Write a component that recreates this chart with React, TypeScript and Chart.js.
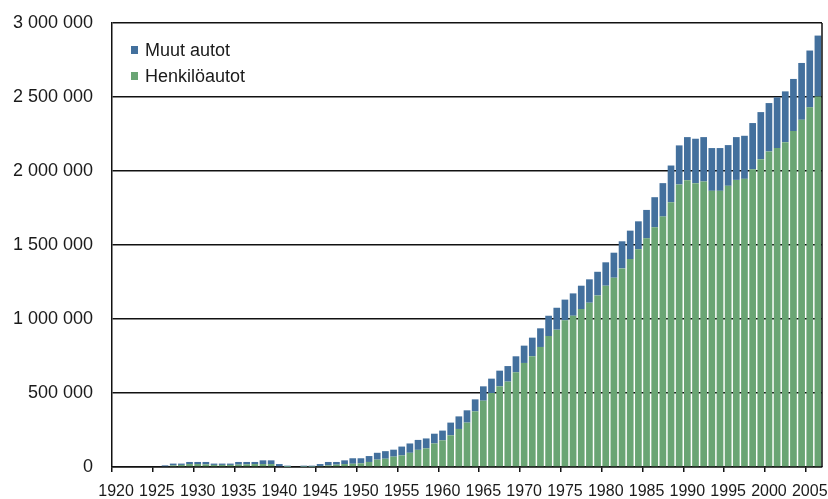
import React, { useEffect, useRef } from "react";
import { Chart, registerables } from "chart.js";

Chart.register(...registerables);

const years = [
  1920, 1921, 1922, 1923, 1924, 1925, 1926, 1927, 1928, 1929,
  1930, 1931, 1932, 1933, 1934, 1935, 1936, 1937, 1938, 1939,
  1940, 1941, 1942, 1943, 1944, 1945, 1946, 1947, 1948, 1949,
  1950, 1951, 1952, 1953, 1954, 1955, 1956, 1957, 1958, 1959,
  1960, 1961, 1962, 1963, 1964, 1965, 1966, 1967, 1968, 1969,
  1970, 1971, 1972, 1973, 1974, 1975, 1976, 1977, 1978, 1979,
  1980, 1981, 1982, 1983, 1984, 1985, 1986, 1987, 1988, 1989,
  1990, 1991, 1992, 1993, 1994, 1995, 1996, 1997, 1998, 1999,
  2000, 2001, 2002, 2003, 2004, 2005, 2006,
];

const henkiloautot = [
  0, 0, 0, 0, 0, 0, 5000, 11000, 14000, 20000,
  20000, 18000, 14000, 14000, 14000, 16000, 18000, 20000, 20000, 20000,
  5000, 1000, 0, 2000, 2000, 7000, 11000, 16000, 20000, 22000,
  25000, 34000, 50000, 56000, 70000, 78000, 96000, 116000, 126000, 159000,
  180000, 214000, 257000, 300000, 376000, 448000, 500000, 545000, 577000, 640000,
  703000, 748000, 811000, 885000, 928000, 991000, 1022000, 1067000, 1110000, 1159000,
  1225000, 1279000, 1342000, 1405000, 1471000, 1545000, 1620000, 1692000, 1789000, 1909000,
  1938000, 1918000, 1929000, 1866000, 1866000, 1900000, 1940000, 1947000, 2012000, 2080000,
  2132000, 2155000, 2195000, 2270000, 2346000, 2430000, 2504000,
];

const muutAutot = [
  0, 0, 0, 0, 0, 0, 6000, 12000, 9000, 14000,
  14000, 16000, 9000, 9000, 9000, 18000, 16000, 14000, 25000, 25000,
  15000, 8000, 0, 7000, 7000, 13000, 23000, 18000, 25000, 37000,
  34000, 40000, 46000, 51000, 47000, 60000, 63000, 67000, 67000, 66000,
  66000, 86000, 85000, 83000, 81000, 97000, 97000, 106000, 105000, 108000,
  117000, 126000, 126000, 137000, 148000, 140000, 151000, 158000, 158000, 160000,
  158000, 169000, 183000, 192000, 189000, 192000, 203000, 226000, 248000, 264000,
  291000, 300000, 300000, 289000, 289000, 275000, 289000, 291000, 312000, 318000,
  327000, 343000, 343000, 352000, 384000, 384000, 411000,
];

const seriesNames = ["Henkilöautot", "Muut autot"];
const seriesColors = ["#6aa574", "#43709d"];

const FONT = "'Liberation Sans', Arial, sans-serif";

const formatThousands = (v: number) =>
  String(v).replace(/\B(?=(\d{3})+(?!\d))/g, " ");

const frameAndLegend = {
  id: "frameAndLegend",
  afterDraw(chart: any) {
    const { ctx, chartArea } = chart;
    ctx.save();
    ctx.strokeStyle = "#111";
    ctx.lineWidth = 1.5;
    ctx.beginPath();
    ctx.moveTo(chartArea.right, chartArea.top);
    ctx.lineTo(chartArea.right, chartArea.bottom);
    ctx.stroke();

    const items = chart.data.datasets.slice().reverse();
    const x0 = chartArea.left + 19;
    let y = chartArea.top + 27;
    ctx.font = `18px ${FONT}`;
    ctx.textBaseline = "middle";
    ctx.textAlign = "left";
    items.forEach((ds: any) => {
      ctx.fillStyle = ds.backgroundColor;
      ctx.fillRect(x0, y - 4, 7, 8);
      ctx.fillStyle = "#1a1a1a";
      ctx.fillText(ds.label, x0 + 14, y + 1);
      y += 26;
    });
    ctx.restore();
  },
};

export default function App() {
  const ref = useRef<HTMLCanvasElement | null>(null);

  useEffect(() => {
    if (!ref.current) return;
    const chart = new Chart(ref.current, {
      type: "bar",
      data: {
        labels: years.map(String),
        datasets: [
          {
            label: seriesNames[0],
            data: henkiloautot,
            backgroundColor: seriesColors[0],
            barPercentage: 0.82,
            categoryPercentage: 1,
            borderWidth: 0,
          },
          {
            label: seriesNames[1],
            data: muutAutot,
            backgroundColor: seriesColors[1],
            barPercentage: 0.82,
            categoryPercentage: 1,
            borderWidth: 0,
          },
        ],
      },
      options: {
        animation: false,
        responsive: true,
        maintainAspectRatio: false,
        layout: { padding: { top: 23, right: 6, left: 0, bottom: 0 } },
        plugins: {
          legend: { display: false },
          tooltip: { enabled: false },
        },
        scales: {
          x: {
            stacked: true,
            afterFit: (s: any) => {
              s.height = 32;
              s.paddingLeft = 0;
              s.paddingRight = 0;
            },
            grid: {
              offset: true,
              drawOnChartArea: false,
              drawTicks: true,
              tickLength: 5,
              lineWidth: 1.5,
              color: (c: any) => (c.index % 5 === 0 ? "#111" : "rgba(0,0,0,0)"),
            },
            border: { display: true, color: "#111", width: 1.5 },
            ticks: {
              autoSkip: false,
              maxRotation: 0,
              minRotation: 0,
              padding: 10,
              color: "#1a1a1a",
              font: { family: FONT, size: 16 },
              callback: (_v: any, i: number) =>
                years[i] % 5 === 0 ? String(years[i]) : "",
            },
          },
          y: {
            stacked: true,
            min: 0,
            max: 3000000,
            afterFit: (s: any) => {
              s.width = 112;
              s.paddingTop = 0;
              s.paddingBottom = 0;
            },
            grid: {
              drawTicks: false,
              color: "#111",
              lineWidth: 1.5,
            },
            border: { display: true, color: "#111", width: 1.5 },
            ticks: {
              stepSize: 500000,
              padding: 19,
              color: "#1a1a1a",
              font: { family: FONT, size: 18 },
              callback: (v: any) => formatThousands(Number(v)),
            },
          },
        },
      },
      plugins: [frameAndLegend],
    });
    return () => chart.destroy();
  }, []);

  return (
    <div
      style={{
        position: "absolute",
        left: 0,
        top: 0,
        width: 828,
        height: 499,
        background: "#fff",
      }}
    >
      <canvas ref={ref} />
    </div>
  );
}
